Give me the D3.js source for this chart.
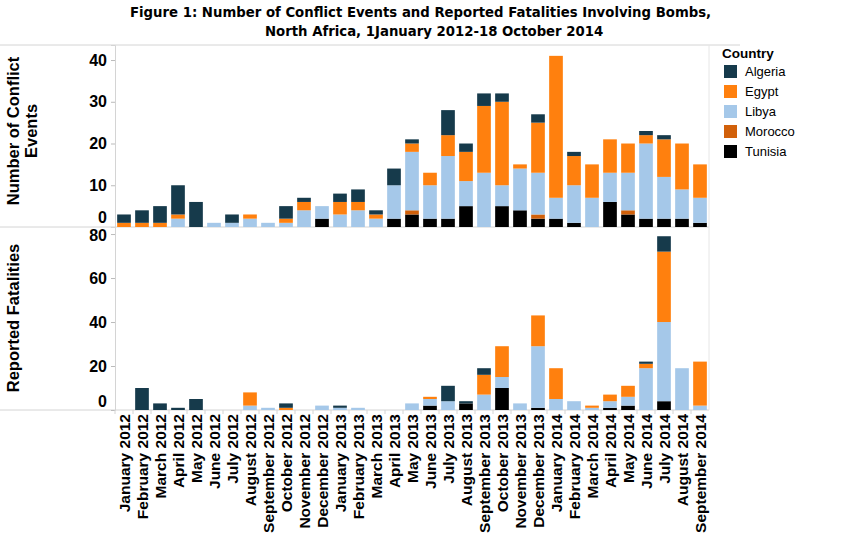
<!DOCTYPE html>
<html><head><meta charset="utf-8">
<script src="https://cdn.jsdelivr.net/npm/d3@7"></script>
<style>
body{margin:0;background:#fff;}
svg{display:block;}
</style></head>
<body>
<svg id="chart" width="861" height="539"></svg>
<script>
const months = ["January 2012","February 2012","March 2012","April 2012","May 2012","June 2012","July 2012","August 2012","September 2012","October 2012","November 2012","December 2012",
"January 2013","February 2013","March 2013","April 2013","May 2013","June 2013","July 2013","August 2013","September 2013","October 2013","November 2013","December 2013",
"January 2014","February 2014","March 2014","April 2014","May 2014","June 2014","July 2014","August 2014","September 2014"];
const countries = ["Algeria","Egypt","Libya","Morocco","Tunisia"];
const countryColors = ["#163a4b","#ff800e","#a5c8e9","#d1600a","#000000"];

// Number of conflict events
const eventsAlgeria = [2,3,4,7,6,0,2,0,0,3,1,0, 2,3,1,4,1,0,6,2,3,2,0,2, 0,1,0,0,0,1,1,0,0];
const eventsEgypt   = [1,1,1,1,0,0,0,1,0,1,2,0, 3,2,1,0,2,3,5,7,16,20,1,12, 34,7,8,8,7,2,9,11,8];
const eventsLibya   = [0,0,0,2,0,1,1,2,1,1,4,3, 3,4,2,8,14,8,15,6,13,5,10,10, 5,9,7,7,9,18,10,7,6];
const eventsMorocco = [0,0,0,0,0,0,0,0,0,0,0,0, 0,0,0,0,1,0,0,0,0,0,0,1, 0,0,0,0,1,0,0,0,0];
const eventsTunisia = [0,0,0,0,0,0,0,0,0,0,0,2, 0,0,0,2,3,2,2,5,0,5,4,2, 2,1,0,6,3,2,2,2,1];

// Reported fatalities
const fatalAlgeria = [0,10,3,1,5,0,0,0,0,2,0,0, 1,0,0,0,0,0,7,1,3,0,0,0, 0,0,0,0,0,1,7,0,0];
const fatalEgypt   = [0,0,0,0,0,0,0,6,0,1,0,0, 0,0,0,0,0,1,0,0,9,14,0,14, 14,0,1,3,5,2,32,0,20];
const fatalLibya   = [0,0,0,0,0,0,0,2,1,0,0,2, 1,1,0,0,3,3,4,0,7,5,3,28, 5,4,1,3,4,19,36,19,2];
const fatalMorocco = [0,0,0,0,0,0,0,0,0,0,0,0, 0,0,0,0,0,0,0,0,0,0,0,0, 0,0,0,0,0,0,0,0,0];
const fatalTunisia = [0,0,0,0,0,0,0,0,0,0,0,0, 0,0,0,0,0,2,0,3,0,10,0,1, 0,0,0,1,2,0,4,0,0];

const eventTicks = [0,10,20,30,40];
const fatalTicks = [0,20,40,60,80];

const svg = d3.select("#chart");
const L = 115, R = 709, T1 = 45, B1 = 227, B2 = 410;
const grey = "#d4d4d4";

function rows(series){
  return months.map((m,i)=>{
    const o = {month:m};
    countries.forEach((c,k)=>{o[c]=series[k][i];});
    return o;
  });
}
const eventRows = rows([eventsAlgeria,eventsEgypt,eventsLibya,eventsMorocco,eventsTunisia]);
const fatalRows = rows([fatalAlgeria,fatalEgypt,fatalLibya,fatalMorocco,fatalTunisia]);

const x = d3.scaleBand().domain(months).range([L,R]).paddingInner(0.24).paddingOuter(0.12);
const color = d3.scaleOrdinal().domain(countries).range(countryColors);
const yTop = d3.scaleLinear().domain([0,43.6]).range([B1,T1]);
const yBot = d3.scaleLinear().domain([0,83.2]).range([B2,B1]);

const stackOrder = countries.slice().reverse(); // Tunisia at bottom
const stack = d3.stack().keys(stackOrder);

// frame lines
svg.append("line").attr("x1",0).attr("x2",740).attr("y1",T1).attr("y2",T1).attr("stroke",grey);
[B1,B2].forEach(yy=>svg.append("line").attr("x1",0).attr("x2",R).attr("y1",yy).attr("y2",yy).attr("stroke",grey));
svg.append("line").attr("x1",R).attr("x2",R).attr("y1",T1).attr("y2",B2).attr("stroke","#e6e6e6");

function drawPanel(data,y){
  const g = svg.append("g");
  g.selectAll("g").data(stack(data)).join("g")
    .attr("fill",d=>color(d.key))
    .selectAll("rect").data(d=>d).join("rect")
    .attr("x",d=>x(d.data.month))
    .attr("width",x.bandwidth())
    .attr("y",d=>y(d[1]))
    .attr("height",d=>Math.max(0,y(d[0])-y(d[1])));
}
drawPanel(eventRows,yTop);
drawPanel(fatalRows,yBot);

function drawAxis(y,ticks,dyFn){
  const ax = svg.append("g").attr("transform",`translate(${L},0)`)
    .call(d3.axisLeft(y).tickValues(ticks).tickSize(4).tickPadding(4));
  ax.select(".domain").attr("stroke",grey);
  ax.selectAll(".tick line").attr("stroke","#bbb");
  ax.selectAll(".tick text").attr("font-family","'Liberation Sans',Arial,sans-serif")
    .attr("font-size",16).attr("font-weight","bold").attr("fill","#000")
    .attr("dy",dyFn);
}
drawAxis(yTop,eventTicks,d=>d===0?"-0.26em":"0.32em");
drawAxis(yBot,fatalTicks,d=>d===0?"-0.2em":(d===80?"0.42em":"0.32em"));

// x axis
const xa = svg.append("g").attr("transform",`translate(0,${B2})`)
  .call(d3.axisBottom(x).tickSize(0).tickPadding(0));
xa.select(".domain").remove();
xa.selectAll(".tick text")
  .attr("font-family","'Liberation Sans',Arial,sans-serif")
  .attr("font-size",15.5).attr("font-weight","bold").attr("fill","#000")
  .attr("text-anchor","end")
  .attr("transform","rotate(-90)")
  .attr("x",-4).attr("y",0).attr("dy","0.36em");
// band boundary tick marks
svg.append("g").selectAll("line").data(months).join("line")
  .attr("x1",d=>x(d)-x.step()*x.paddingInner()/2).attr("x2",d=>x(d)-x.step()*x.paddingInner()/2)
  .attr("y1",B2).attr("y2",B2+4).attr("stroke",grey);

// y titles
const ytf = "'Liberation Sans',Arial,sans-serif";
const t1 = svg.append("text").attr("transform","translate(19,131) rotate(-90)")
  .attr("text-anchor","middle").attr("font-family",ytf).attr("font-size",16.5).attr("font-weight","bold");
t1.append("tspan").attr("x",0).attr("y",0).text("Number of Conflict");
t1.append("tspan").attr("x",0).attr("y",18).text("Events");
svg.append("text").attr("transform","translate(19,318) rotate(-90)")
  .attr("text-anchor","middle").attr("font-family",ytf).attr("font-size",16.5).attr("font-weight","bold")
  .text("Reported Fatalities");

// title
const title1 = svg.append("text").attr("x",130).attr("y",17)
  .attr("font-family","Tahoma,'DejaVu Sans',sans-serif").attr("font-weight","bold").attr("font-size",14)
  .text("Figure 1: Number of Conflict Events and Reported Fatalities Involving Bombs,");
const w = title1.node().getComputedTextLength();
const fs = 14*582/w;
title1.attr("font-size",fs);
svg.append("text").attr("x",265).attr("y",36)
  .attr("font-family","Tahoma,'DejaVu Sans',sans-serif").attr("font-weight","bold").attr("font-size",fs)
  .text("North Africa, 1January 2012-18 October 2014");

// legend
const lg = svg.append("g").attr("transform","translate(722,0)");
lg.append("text").attr("x",0).attr("y",58).attr("font-family",ytf).attr("font-weight","bold").attr("font-size",13.5).text("Country");
const items = lg.selectAll("g.item").data(countries).join("g").attr("class","item")
  .attr("transform",(d,i)=>`translate(2,${65+i*20})`);
items.append("rect").attr("width",13).attr("height",13).attr("fill",d=>color(d));
items.append("text").attr("x",21).attr("y",6.5).attr("dy","0.35em")
  .attr("font-family",ytf).attr("font-size",13).text(d=>d);
</script>
</body></html>
